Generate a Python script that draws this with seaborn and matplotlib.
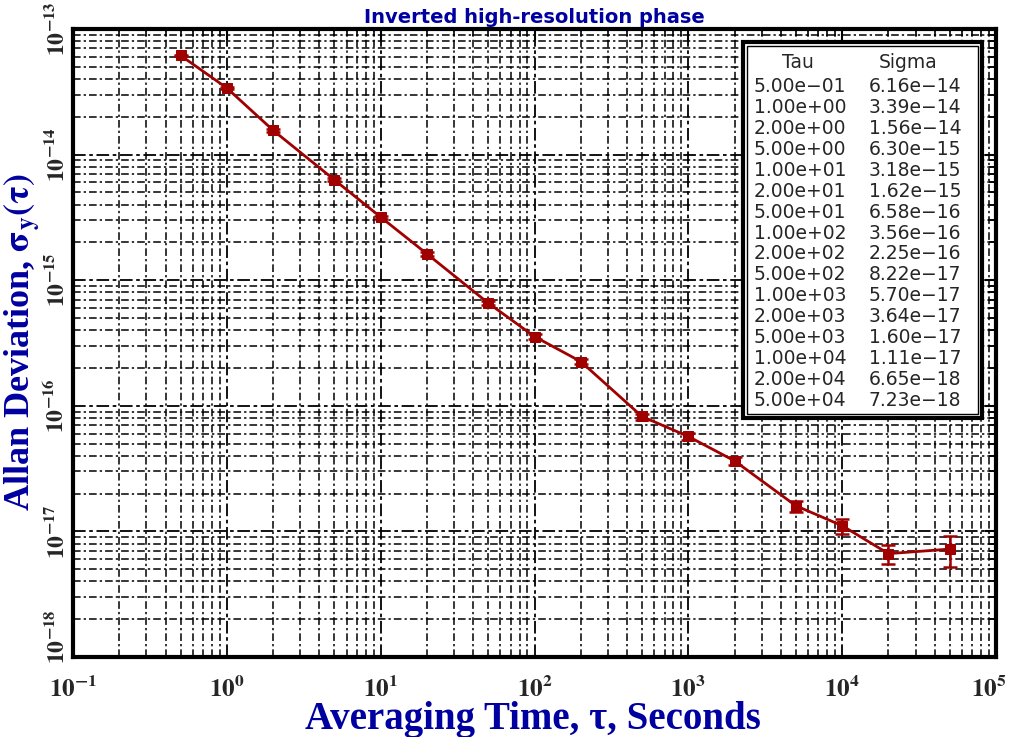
import matplotlib
matplotlib.use("Agg")
import matplotlib.pyplot as plt
import seaborn as sns
import pandas as pd
from matplotlib.patches import Rectangle
from matplotlib.transforms import ScaledTranslation

# ---- data ----
tau = [0.5, 1, 2, 5, 10, 20, 50, 100, 200, 500, 1e3, 2e3, 5e3, 1e4, 2e4, 5e4]
sigma = [6.16e-14, 3.39e-14, 1.56e-14, 6.30e-15, 3.18e-15, 1.62e-15, 6.58e-16,
         3.56e-16, 2.25e-16, 8.22e-17, 5.70e-17, 3.64e-17, 1.60e-17, 1.11e-17,
         6.65e-18, 7.23e-18]
sigma_err = [1.0e-15, 0.7e-15, 0.35e-15, 1.6e-16, 0.9e-16, 0.5e-16, 2.4e-17,
             1.4e-17, 1.0e-17, 0.45e-17, 0.35e-17, 0.28e-17, 1.6e-18, 1.5e-18,
             1.1e-18, 2.0e-18]
x_ticks = [1e-1, 1e0, 1e1, 1e2, 1e3, 1e4, 1e5]
x_tick_labels = [r"$\mathbf{10^{-1}}$", r"$\mathbf{10^{0}}$", r"$\mathbf{10^{1}}$",
                 r"$\mathbf{10^{2}}$", r"$\mathbf{10^{3}}$", r"$\mathbf{10^{4}}$",
                 r"$\mathbf{10^{5}}$"]
y_ticks = [1e-18, 1e-17, 1e-16, 1e-15, 1e-14, 1e-13]
y_tick_labels = [r"$\mathbf{10^{-18}}$", r"$\mathbf{10^{-17}}$", r"$\mathbf{10^{-16}}$",
                 r"$\mathbf{10^{-15}}$", r"$\mathbf{10^{-14}}$", r"$\mathbf{10^{-13}}$"]
title = "Inverted high-resolution phase"
xlabel = "Averaging Time, τ, Seconds"
ylabel = r"Allan Deviation, $\mathbf{\sigma_y(\tau)}$"

sns.set_theme(style="white")
plt.rcParams["font.family"] = ["DejaVu Sans"]
plt.rcParams["mathtext.fontset"] = "stix"

BLUE = "#0000a0"
RED = "#a00000"

df = pd.DataFrame({"tau": tau, "sigma": sigma})

fig = plt.figure(figsize=(10.11, 7.37), dpi=100)
ax = fig.add_axes([73 / 1011, 1 - 657 / 737, 923 / 1011, 628 / 737])

ax.set_xscale("log")
ax.set_yscale("log")
ax.set_xlim(1e-1, 1e5)
ax.set_ylim(1e-18, 1e-13)

# grid
ax.grid(True, which="major", color="black", linestyle=(0, (7, 2, 2, 2)), linewidth=1.3)
ax.grid(True, which="minor", color="black", linestyle=(0, (5, 2, 1.5, 2)), linewidth=1.1)
ax.set_axisbelow(True)

ax.errorbar(tau, sigma, yerr=sigma_err, fmt="none", ecolor=RED, elinewidth=1.8,
            capsize=5, capthick=1.8, zorder=3)
sns.lineplot(data=df, x="tau", y="sigma", ax=ax, color=RED, linewidth=2,
             marker="s", markersize=7, markeredgecolor=RED, markerfacecolor=RED,
             zorder=4)

ax.set_xticks(x_ticks)
ax.set_xticklabels(x_tick_labels, fontsize=18)
ax.set_yticks(y_ticks)
ax.set_yticklabels(y_tick_labels, fontsize=17, rotation=90, va="center")
ax.tick_params(axis="both", which="both", direction="in", top=True, right=True,
               color="black")
ax.tick_params(axis="both", which="major", length=8, width=1.5)
ax.tick_params(axis="both", which="minor", length=5, width=1.2)
ax.tick_params(axis="x", pad=14)
ax.tick_params(axis="y", pad=3)

# nudge the corner labels like the reference (bottom y label up, last x label in)
ylab0 = ax.get_yticklabels()[0]
ylab0.set_transform(ylab0.get_transform() + ScaledTranslation(0, 20 / 100, fig.dpi_scale_trans))
xlab_last = ax.get_xticklabels()[-1]
xlab_last.set_transform(xlab_last.get_transform() + ScaledTranslation(-7 / 100, 0, fig.dpi_scale_trans))

for s in ax.spines.values():
    s.set_linewidth(3)
    s.set_color("black")

ax.set_xlabel("")
ax.set_ylabel("")
fig.text(533 / 1011, 1 - 729 / 737, xlabel, fontsize=28, fontweight="bold",
         family="Liberation Serif", color=BLUE, ha="center", va="baseline")
fig.text(22 / 1011, 1 - 342 / 737, ylabel, fontsize=26, fontweight="bold",
         family="Liberation Serif", color=BLUE, ha="center", va="center",
         rotation=90)
ax.set_title(title, fontsize=14, fontweight="bold", color=BLUE, pad=4)

# table box
def axc(px, py):
    return (px - 73) / 923, (657 - py) / 628

x0, y0 = axc(743, 418)
x1, y1 = axc(982, 42)
ax.add_patch(Rectangle((x0, y0), x1 - x0, y1 - y0, transform=ax.transAxes,
                       facecolor="white", edgecolor="black", linewidth=3, zorder=5))
ax.add_patch(Rectangle((x0 + 0.004, y0 + 0.006), x1 - x0 - 0.008, y1 - y0 - 0.012,
                       transform=ax.transAxes, facecolor="none", edgecolor="black",
                       linewidth=1, zorder=6))

hx, hy = axc(798, 62)
ax.text(hx, hy, "Tau", transform=ax.transAxes, ha="center", va="center",
        fontsize=13.5, zorder=7)
hx2, _ = axc(908, 62)
ax.text(hx2, hy, "Sigma", transform=ax.transAxes, ha="center", va="center",
        fontsize=13.5, zorder=7)
cx1, _ = axc(754, 0)
cx2, _ = axc(869, 0)
for i, (t, s) in enumerate(zip(tau, sigma)):
    _, ry = axc(0, 87 + i * 20.87)
    ax.text(cx1, ry, f"{t:.2e}".replace("-", "\u2212"), transform=ax.transAxes,
            ha="left", va="center", fontsize=13.5, zorder=7)
    ax.text(cx2, ry, f"{s:.2e}".replace("-", "\u2212"), transform=ax.transAxes,
            ha="left", va="center", fontsize=13.5, zorder=7)

fig.savefig("out.png", dpi=100)
